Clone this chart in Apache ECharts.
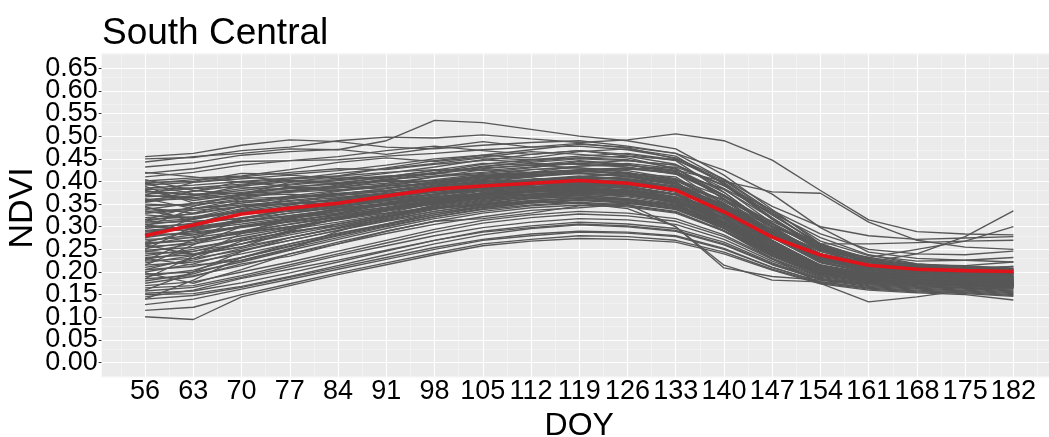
<!DOCTYPE html>
<html>
<head>
<meta charset="utf-8">
<script src="https://cdn.jsdelivr.net/npm/echarts@6/dist/echarts.min.js"></script>
<style>
  html, body { margin: 0; padding: 0; background: #ffffff; }
  #chart { width: 1049px; height: 437px; }
</style>
</head>
<body>
<div id="chart"></div>
<script>
// Day of year of each composite
const doy = [56, 63, 70, 77, 84, 91, 98, 105, 112, 119, 126, 133, 140, 147, 154, 161, 168, 175, 182];

// NDVI tick labels
const yTicks = [0.00, 0.05, 0.10, 0.15, 0.20, 0.25, 0.30, 0.35, 0.40, 0.45, 0.50, 0.55, 0.60, 0.65];

// Regional mean NDVI curve
const meanNdvi = [0.280, 0.304, 0.328, 0.341, 0.352, 0.368, 0.383, 0.390, 0.396, 0.402, 0.396, 0.381, 0.333, 0.277, 0.2375, 0.215, 0.206, 0.203, 0.201];

// Individual field NDVI profiles
const field01 = [.455,.462,.480,.492,.488,.476,.472,.480,.486,.490,.478,.462,.425,.372,.298,.244,.230,.226,.222];
const field02 = [.450,.453,.468,.476,.490,.498,.496,.503,.494,.486,.492,.505,.490,.447,.380,.315,.289,.284,.282];
const field03 = [.443,.455,.462,.472,.470,.490,.535,.530,.515,.500,.490,.472,.414,.338,.262,.228,.216,.214,.208];
const field04 = [.432,.441,.458,.466,.471,.460,.474,.488,.476,.484,.474,.450,.396,.320,.254,.220,.208,.206,.204];
const field05 = [.418,.428,.444,.446,.455,.468,.478,.468,.460,.468,.456,.438,.384,.308,.246,.218,.212,.214,.222];
const field06 = [.404,.380,.372,.398,.412,.430,.446,.458,.470,.482,.476,.462,.404,.334,.268,.236,.224,.226,.232];
const field07 = [.401,.408,.412,.426,.442,.452,.444,.454,.466,.460,.452,.428,.370,.294,.234,.206,.198,.194,.190];
const field08 = [.398,.400,.418,.416,.424,.436,.450,.458,.452,.466,.472,.456,.394,.316,.250,.214,.202,.198,.204];
const field09 = [.395,.404,.410,.420,.428,.426,.438,.446,.460,.468,.460,.446,.376,.298,.230,.202,.192,.188,.184];
const field10 = [.392,.398,.406,.414,.406,.418,.432,.448,.442,.450,.446,.436,.390,.336,.284,.250,.240,.238,.246];
const field11 = [.389,.352,.365,.378,.392,.405,.418,.432,.445,.452,.448,.430,.360,.282,.224,.198,.190,.188,.186];
const field12 = [.385,.392,.400,.388,.396,.402,.398,.410,.415,.420,.426,.432,.392,.318,.250,.216,.206,.204,.198];
const field13 = [.382,.386,.394,.402,.404,.410,.424,.430,.436,.446,.438,.418,.348,.270,.214,.196,.188,.186,.182];
const field14 = [.379,.370,.384,.394,.404,.412,.416,.434,.440,.438,.432,.416,.368,.304,.250,.222,.210,.206,.212];
const field15 = [.376,.384,.388,.380,.390,.404,.412,.420,.430,.444,.436,.424,.362,.288,.228,.200,.194,.192,.190];
const field16 = [.372,.378,.392,.405,.410,.405,.392,.398,.404,.410,.418,.410,.344,.266,.210,.192,.186,.184,.180];
const field17 = [.369,.364,.376,.386,.388,.396,.410,.418,.426,.430,.424,.406,.356,.300,.256,.232,.218,.212,.208];
const field18 = [.366,.372,.374,.378,.386,.390,.404,.416,.420,.426,.430,.418,.370,.308,.254,.226,.216,.210,.206];
const field19 = [.362,.340,.352,.368,.380,.394,.402,.412,.418,.424,.416,.398,.334,.262,.208,.190,.186,.182,.178];
const field20 = [.358,.362,.370,.376,.382,.386,.396,.408,.414,.418,.414,.396,.346,.286,.234,.210,.202,.198,.194];
const field21 = [.354,.368,.390,.400,.395,.410,.425,.440,.436,.430,.420,.400,.328,.256,.204,.188,.182,.180,.176];
const field22 = [.350,.346,.362,.366,.374,.380,.390,.400,.404,.410,.406,.388,.340,.280,.230,.206,.198,.196,.192];
const field23 = [.346,.350,.356,.364,.370,.378,.386,.396,.400,.406,.400,.384,.324,.254,.204,.186,.180,.178,.174];
const field24 = [.342,.330,.345,.352,.360,.372,.388,.402,.410,.418,.412,.396,.346,.282,.226,.204,.196,.194,.190];
const field25 = [.338,.352,.368,.372,.365,.370,.380,.385,.392,.398,.392,.380,.350,.300,.262,.262,.265,.268,.270];
const field26 = [.334,.340,.348,.356,.364,.376,.392,.406,.414,.422,.418,.404,.352,.282,.222,.198,.190,.186,.182];
const field27 = [.330,.336,.344,.350,.358,.366,.376,.386,.394,.400,.394,.376,.318,.250,.200,.184,.178,.176,.172];
const field28 = [.326,.318,.335,.348,.362,.374,.382,.392,.386,.394,.398,.390,.360,.306,.252,.222,.210,.206,.200];
const field29 = [.320,.328,.345,.358,.368,.380,.394,.404,.412,.418,.410,.392,.332,.262,.208,.190,.184,.182,.180];
const field30 = [.316,.322,.334,.342,.350,.360,.372,.384,.392,.396,.390,.372,.316,.248,.198,.182,.176,.174,.170];
const field31 = [.312,.330,.356,.366,.372,.384,.400,.412,.420,.425,.418,.405,.366,.300,.240,.212,.202,.198,.196];
const field32 = [.308,.312,.318,.330,.342,.352,.362,.370,.378,.384,.380,.366,.326,.268,.216,.196,.190,.188,.186];
const field33 = [.304,.316,.336,.340,.350,.366,.378,.392,.402,.408,.404,.388,.338,.270,.214,.194,.186,.184,.180];
const field34 = [.300,.296,.310,.324,.338,.350,.366,.378,.384,.392,.386,.370,.322,.258,.206,.188,.182,.178,.176];
const field35 = [.296,.308,.330,.345,.355,.362,.372,.380,.388,.394,.392,.380,.342,.284,.232,.208,.198,.196,.194];
const field36 = [.292,.300,.314,.322,.334,.348,.364,.374,.382,.388,.382,.366,.312,.246,.198,.182,.176,.174,.172];
const field37 = [.288,.294,.306,.320,.336,.352,.368,.382,.394,.402,.398,.384,.334,.268,.214,.196,.190,.188,.192];
const field38 = [.284,.305,.338,.352,.360,.370,.380,.388,.394,.400,.396,.382,.340,.276,.220,.198,.190,.186,.184];
const field39 = [.280,.286,.298,.312,.326,.340,.356,.370,.378,.386,.380,.364,.316,.252,.202,.186,.180,.178,.174];
const field40 = [.276,.290,.312,.330,.344,.358,.372,.386,.396,.404,.400,.388,.350,.292,.240,.214,.204,.200,.198];
const field41 = [.272,.276,.290,.305,.320,.338,.354,.366,.376,.382,.378,.362,.308,.242,.196,.180,.176,.174,.170];
const field42 = [.268,.282,.302,.318,.330,.342,.358,.372,.382,.390,.386,.372,.330,.266,.212,.192,.184,.182,.178];
const field43 = [.264,.270,.285,.300,.318,.336,.352,.364,.372,.378,.372,.356,.302,.240,.194,.178,.172,.170,.168];
const field44 = [.260,.278,.300,.315,.325,.338,.350,.362,.370,.376,.380,.372,.342,.288,.236,.210,.200,.196,.200];
const field45 = [.256,.262,.280,.298,.316,.334,.350,.362,.370,.376,.372,.358,.318,.256,.206,.188,.182,.180,.176];
const field46 = [.252,.266,.288,.306,.322,.340,.358,.372,.380,.384,.378,.360,.306,.240,.194,.180,.174,.172,.168];
const field47 = [.248,.254,.270,.288,.306,.324,.342,.356,.366,.372,.366,.350,.304,.244,.198,.182,.176,.174,.170];
const field48 = [.244,.262,.290,.312,.328,.344,.360,.374,.386,.394,.388,.372,.326,.262,.210,.190,.184,.182,.178];
const field49 = [.240,.246,.262,.282,.302,.322,.340,.352,.362,.366,.360,.346,.310,.256,.210,.192,.186,.184,.182];
const field50 = [.236,.250,.275,.294,.310,.328,.346,.360,.372,.378,.372,.356,.308,.246,.198,.182,.176,.172,.168];
const field51 = [.232,.238,.256,.276,.296,.316,.334,.348,.358,.364,.360,.346,.302,.244,.198,.182,.178,.176,.172];
const field52 = [.228,.245,.272,.296,.318,.336,.352,.366,.378,.386,.380,.364,.320,.258,.206,.188,.180,.178,.182];
const field53 = [.224,.230,.248,.270,.292,.312,.330,.344,.354,.360,.354,.340,.298,.240,.196,.180,.176,.172,.168];
const field54 = [.220,.236,.262,.286,.306,.326,.344,.358,.368,.374,.370,.356,.316,.258,.210,.190,.182,.178,.176];
const field55 = [.215,.222,.240,.262,.284,.306,.326,.342,.352,.358,.352,.338,.296,.240,.196,.180,.174,.172,.166];
const field56 = [.210,.226,.252,.276,.298,.318,.338,.354,.366,.372,.368,.354,.312,.252,.204,.186,.180,.178,.174];
const field57 = [.205,.212,.232,.256,.280,.302,.322,.338,.348,.354,.348,.334,.290,.234,.192,.178,.172,.170,.164];
const field58 = [.200,.218,.246,.270,.292,.314,.334,.350,.362,.368,.362,.348,.308,.250,.204,.188,.182,.180,.186];
const field59 = [.195,.200,.222,.248,.272,.296,.318,.334,.346,.352,.346,.332,.292,.238,.196,.180,.174,.170,.166];
const field60 = [.190,.204,.232,.258,.282,.304,.326,.344,.356,.364,.360,.346,.306,.248,.200,.184,.178,.176,.172];
const field61 = [.185,.192,.214,.240,.266,.290,.312,.330,.342,.348,.344,.330,.290,.236,.194,.178,.172,.168,.164];
const field62 = [.180,.196,.226,.252,.276,.300,.322,.340,.352,.360,.356,.342,.302,.246,.200,.184,.178,.174,.170];
const field63 = [.170,.178,.200,.222,.246,.270,.294,.314,.326,.334,.330,.318,.282,.230,.190,.176,.170,.166,.160];
const field64 = [.165,.170,.192,.216,.240,.264,.288,.308,.320,.328,.324,.312,.278,.228,.188,.174,.168,.164,.158];
const field65 = [.158,.166,.188,.212,.236,.258,.280,.298,.310,.318,.315,.305,.272,.224,.186,.172,.166,.162,.156];
const field66 = [.153,.158,.176,.198,.222,.246,.270,.290,.302,.310,.306,.296,.266,.220,.184,.170,.164,.160,.154];
const field67 = [.150,.152,.168,.190,.214,.238,.262,.282,.296,.304,.300,.290,.260,.216,.182,.168,.162,.158,.152];
const field68 = [.145,.160,.186,.206,.226,.248,.270,.288,.298,.306,.302,.292,.262,.218,.184,.172,.168,.166,.162];
const field69 = [.140,.148,.166,.188,.210,.232,.254,.272,.284,.290,.288,.280,.252,.210,.178,.166,.160,.156,.150];
const field70 = [.128,.140,.162,.184,.206,.228,.250,.270,.280,.288,.286,.278,.250,.210,.178,.164,.158,.154,.148];
const field71 = [.115,.122,.150,.174,.198,.220,.242,.262,.272,.280,.278,.270,.244,.206,.176,.162,.156,.152,.146];
const field72 = [.101,.095,.145,.170,.194,.216,.238,.258,.268,.274,.272,.266,.240,.204,.174,.160,.154,.150,.138];
const field73 = [.300,.305,.320,.335,.345,.355,.365,.372,.378,.382,.375,.355,.290,.230,.175,.134,.145,.160,.170];
const field74 = [.262,.270,.288,.300,.315,.330,.342,.350,.355,.352,.340,.300,.215,.182,.178,.175,.172,.170,.168];
const field75 = [.290,.298,.312,.325,.338,.350,.360,.368,.372,.370,.350,.300,.209,.190,.182,.178,.176,.174,.172];
const field76 = [.360,.368,.380,.392,.402,.410,.418,.428,.436,.440,.436,.425,.400,.377,.374,.310,.270,.255,.250];
const field77 = [.330,.340,.352,.362,.372,.384,.396,.410,.418,.424,.418,.402,.352,.290,.240,.222,.240,.278,.335];
const field78 = [.310,.318,.332,.344,.356,.368,.382,.394,.402,.410,.404,.388,.344,.290,.248,.232,.250,.268,.300];
const field79 = [.410,.420,.436,.446,.448,.456,.462,.470,.476,.478,.470,.452,.405,.345,.300,.280,.272,.275,.278];
const field80 = [.300,.340,.360,.350,.372,.368,.390,.402,.396,.410,.420,.398,.330,.262,.214,.196,.188,.186,.184];
const field81 = [.260,.238,.255,.290,.330,.352,.366,.370,.382,.378,.372,.352,.296,.236,.194,.180,.176,.174,.170];
const field82 = [.215,.260,.300,.310,.322,.330,.352,.376,.392,.404,.398,.380,.338,.276,.222,.200,.192,.188,.190];
const field83 = [.395,.372,.362,.378,.386,.402,.418,.412,.426,.434,.440,.428,.376,.300,.236,.206,.196,.192,.188];
const field84 = [.185,.235,.285,.320,.330,.348,.362,.382,.388,.396,.402,.390,.348,.282,.226,.204,.196,.192,.188];
const field85 = [.345,.310,.318,.336,.348,.362,.376,.380,.392,.405,.410,.395,.342,.278,.226,.205,.196,.194,.196];
const field86 = [.275,.320,.345,.352,.350,.365,.380,.394,.388,.382,.375,.352,.296,.240,.200,.186,.180,.178,.176];
const field87 = [.160,.200,.245,.276,.298,.322,.348,.370,.382,.392,.388,.372,.328,.266,.214,.194,.186,.182,.178];
const field88 = [.370,.398,.410,.402,.398,.408,.420,.438,.448,.452,.456,.448,.402,.330,.258,.222,.210,.206,.202];
const field89 = [.230,.215,.225,.250,.290,.320,.340,.348,.364,.384,.392,.385,.350,.295,.245,.218,.206,.200,.196];
const field90 = [.315,.345,.372,.388,.394,.400,.402,.412,.408,.396,.388,.372,.318,.252,.204,.186,.180,.178,.174];
const field91 = [.198,.175,.205,.240,.262,.285,.305,.322,.336,.342,.350,.356,.330,.276,.228,.204,.194,.190,.184];
const field92 = [.285,.282,.302,.316,.342,.364,.386,.398,.410,.422,.430,.420,.382,.318,.256,.224,.212,.206,.200];
const field93 = [.250,.300,.328,.334,.342,.348,.356,.362,.364,.370,.362,.346,.304,.248,.206,.192,.186,.184,.180];
const field94 = [.420,.410,.398,.405,.418,.428,.440,.452,.448,.456,.462,.448,.398,.326,.260,.224,.212,.208,.212];
const field95 = [.175,.190,.218,.235,.262,.290,.312,.318,.330,.346,.352,.340,.300,.250,.208,.190,.182,.178,.172];
const field96 = [.335,.318,.340,.362,.378,.390,.396,.404,.418,.425,.428,.418,.384,.330,.276,.238,.218,.210,.204];
const field97 = [.225,.272,.318,.340,.346,.358,.366,.374,.388,.392,.384,.366,.318,.256,.208,.190,.184,.180,.178];
const field98 = [.380,.358,.372,.385,.380,.392,.410,.426,.420,.434,.436,.422,.370,.300,.240,.212,.204,.200,.198];
const field99 = [.140,.182,.232,.262,.286,.306,.330,.346,.358,.362,.358,.344,.306,.252,.208,.190,.184,.180,.176];
const field100 = [.305,.288,.300,.318,.334,.352,.372,.392,.404,.412,.406,.394,.360,.312,.262,.230,.214,.206,.198];
const field101 = [.265,.292,.318,.336,.352,.360,.370,.388,.394,.390,.396,.384,.346,.290,.236,.208,.198,.194,.188];
const field102 = [.205,.230,.268,.290,.302,.322,.346,.364,.372,.380,.376,.360,.318,.262,.214,.194,.186,.182,.180];
const field103 = [.355,.378,.400,.408,.412,.420,.426,.424,.432,.440,.446,.436,.392,.326,.262,.228,.214,.208,.206];
const field104 = [.245,.240,.262,.292,.318,.338,.356,.368,.376,.380,.374,.358,.312,.250,.202,.186,.180,.176,.172];

const fields = [
  field01, field02, field03, field04, field05, field06, field07, field08, field09, field10,
  field11, field12, field13, field14, field15, field16, field17, field18, field19, field20,
  field21, field22, field23, field24, field25, field26, field27, field28, field29, field30,
  field31, field32, field33, field34, field35, field36, field37, field38, field39, field40,
  field41, field42, field43, field44, field45, field46, field47, field48, field49, field50,
  field51, field52, field53, field54, field55, field56, field57, field58, field59, field60,
  field61, field62, field63, field64, field65, field66, field67, field68, field69, field70,
  field71, field72, field73, field74, field75, field76, field77, field78, field79, field80,
  field81, field82, field83, field84, field85, field86, field87, field88, field89, field90,
  field91, field92, field93, field94, field95, field96, field97, field98, field99, field100,
  field101, field102, field103, field104
];

const FONT = "'Liberation Sans', Arial, Helvetica, sans-serif";

// Axis ranges padded by 5% on each side, like a ggplot continuous scale
const xSpan = doy[doy.length - 1] - doy[0];
const X_MIN = doy[0] - xSpan * 0.05;
const X_MAX = doy[doy.length - 1] + xSpan * 0.05;
const ySpan = yTicks[yTicks.length - 1] - yTicks[0];
const Y_MIN = yTicks[0] - ySpan * 0.05;
const Y_MAX = yTicks[yTicks.length - 1] + ySpan * 0.05;

// Minor grid positions halfway between major breaks (and one step beyond each end)
function minorBreaks(major, lo, hi) {
  const half = (major[1] - major[0]) / 2;
  const out = [];
  out.push(major[0] - half);
  for (let i = 0; i < major.length - 1; i++) out.push((major[i] + major[i + 1]) / 2);
  out.push(major[major.length - 1] + half);
  return out.filter(v => v >= lo && v <= hi);
}
const xMinor = minorBreaks(doy, X_MIN, X_MAX);
const yMinor = minorBreaks(yTicks, Y_MIN, Y_MAX);

const majorStyle = { color: '#ffffff', width: 1.1, type: 'solid' };
const minorStyle = { color: '#f6f6f6', width: 0.6, type: 'solid' };

const gridLines = []
  .concat(xMinor.map(v => ({ xAxis: v, lineStyle: minorStyle })))
  .concat(yMinor.map(v => ({ yAxis: v, lineStyle: minorStyle })))
  .concat(doy.map(v => ({ xAxis: v, lineStyle: majorStyle })))
  .concat(yTicks.map(v => ({ yAxis: v, lineStyle: majorStyle })));

const pairs = vals => doy.map((d, i) => [d, vals[i]]);

const series = [{
  type: 'line',
  data: [],
  silent: true,
  z: 1,
  markLine: {
    silent: true,
    animation: false,
    z: 1,
    symbol: ['none', 'none'],
    label: { show: false },
    emphasis: { disabled: true },
    data: gridLines
  }
}];

fields.forEach(f => {
  series.push({
    type: 'line',
    data: pairs(f),
    z: 2,
    silent: true,
    symbol: 'none',
    showSymbol: false,
    emphasis: { disabled: true },
    lineStyle: { color: '#575757', width: 1.35 }
  });
});

series.push({
  type: 'line',
  data: pairs(meanNdvi),
  z: 3,
  silent: true,
  symbol: 'none',
  showSymbol: false,
  emphasis: { disabled: true },
  lineStyle: { color: '#e0131b', width: 3.6 }
});

// The NDVI labels are tightly packed, so alternate labels live on two
// coincident left axes to keep every one of them visible.
const yEven = yTicks.filter((v, i) => i % 2 === 0);
const yOdd = yTicks.filter((v, i) => i % 2 === 1);
function yAxisWith(values) {
  return {
    type: 'value',
    position: 'left',
    offset: 0,
    gridIndex: 0,
    min: Y_MIN,
    max: Y_MAX,
    axisLine: { show: false },
    splitLine: { show: false },
    axisTick: { show: true, customValues: values, length: 3, lineStyle: { color: '#333333', width: 1 } },
    axisLabel: {
      customValues: values,
      showMinLabel: true, showMaxLabel: true, hideOverlap: false,
      fontFamily: FONT, fontSize: 27, color: '#000000', margin: 4,
      formatter: v => v.toFixed(2)
    }
  };
}

const chart = echarts.init(document.getElementById('chart'), null, { renderer: 'canvas' });
chart.setOption({
  animation: false,
  backgroundColor: '#ffffff',
  title: {
    text: 'South Central',
    left: 97,
    top: 10,
    textStyle: { fontFamily: FONT, fontSize: 37, fontWeight: 'normal', color: '#000000' }
  },
  grid: {
    left: 101.7,
    top: 53.6,
    width: 955.1,
    height: 323.6,
    outerBoundsMode: 'none',
    containLabel: false,
    show: true,
    backgroundColor: '#ebebeb',
    borderWidth: 0
  },
  graphic: [{
    type: 'text',
    x: 23,
    y: 208,
    rotation: Math.PI / 2,
    silent: true,
    style: {
      text: 'NDVI',
      font: "34px 'Liberation Sans', Arial, Helvetica, sans-serif",
      fill: '#000000',
      align: 'center',
      verticalAlign: 'middle'
    }
  }],
  xAxis: {
    type: 'value',
    min: X_MIN,
    max: X_MAX,
    name: 'DOY',
    nameLocation: 'middle',
    nameGap: 24,
    nameTextStyle: { fontFamily: FONT, fontSize: 32, color: '#000000', verticalAlign: 'top' },
    axisLine: { show: false },
    splitLine: { show: false },
    axisTick: { show: true, customValues: doy, length: 3, lineStyle: { color: '#333333', width: 1 } },
    axisLabel: {
      customValues: doy,
      showMinLabel: true, showMaxLabel: true, hideOverlap: false,
      fontFamily: FONT, fontSize: 27, color: '#000000', margin: 1,
      formatter: v => String(Math.round(v))
    }
  },
  yAxis: [yAxisWith(yEven), yAxisWith(yOdd)],
  series: series
});
</script>
</body>
</html>
